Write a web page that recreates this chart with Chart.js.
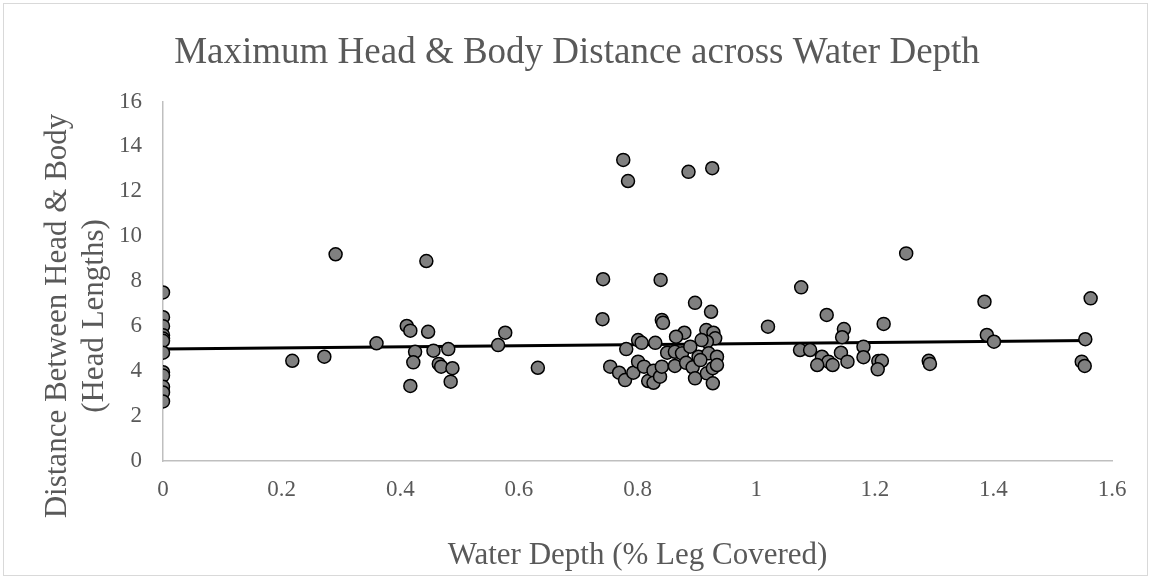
<!DOCTYPE html>
<html>
<head>
<meta charset="utf-8">
<script src="https://cdn.jsdelivr.net/npm/chart.js@4"></script>
<style>
  html, body { margin: 0; padding: 0; background: #ffffff; }
  #wrap { position: relative; width: 1151px; height: 579px; }
  canvas { display: block; }
</style>
</head>
<body>
<div id="wrap"><canvas id="c" width="1151" height="579"></canvas></div>
<script>
// ---- data ----
const chartTitle = "Maximum Head & Body Distance across Water Depth";
const xAxisTitle = "Water Depth (% Leg Covered)";
const yAxisTitle = ["Distance Between Head & Body", "(Head Lengths)"];

const waterDepth = [
  0, 0, 0, 0, 0, 0, 0, 0, 0, 0, 0, 0,
  0.218, 0.272, 0.291, 0.360, 0.411, 0.417, 0.447, 0.425, 0.422, 0.417,
  0.444, 0.456, 0.481, 0.465, 0.469, 0.488, 0.485, 0.577, 0.565, 0.632,
  0.742, 0.741, 0.781, 0.754, 0.769, 0.779, 0.793, 0.801, 0.801, 0.807,
  0.811, 0.818, 0.827, 0.830,
  0.776, 0.784, 0.886, 0.926, 0.839, 0.841, 0.843, 0.897, 0.924, 0.916,
  0.928, 0.931, 0.917, 0.908, 0.879, 0.865, 0.850, 0.863, 0.875, 0.889,
  0.903, 0.920, 0.934, 0.827, 0.838, 0.841, 0.863, 0.882, 0.893, 0.897,
  0.917, 0.927, 0.927, 0.906, 0.934,
  1.253, 1.076, 1.385, 1.119, 1.020, 1.215, 1.148, 1.145, 1.389, 1.401,
  1.074, 1.091, 1.111, 1.122, 1.103, 1.129, 1.143, 1.154, 1.181, 1.181,
  1.206, 1.212, 1.205, 1.291, 1.293,
  1.564, 1.555, 1.549, 1.554
];
const headBodyDistance = [
  7.50, 6.40, 6.00, 5.60, 5.45, 5.35, 4.82, 3.95, 3.80, 3.30, 3.05, 2.65,
  4.46, 4.64, 9.20, 5.24, 6.01, 5.80, 5.75, 4.86, 4.39, 3.34,
  8.90, 4.91, 4.98, 4.32, 4.20, 4.13, 3.53, 5.71, 5.16, 4.15,
  8.09, 6.31, 4.98, 4.20, 3.93, 3.60, 3.93, 4.42, 5.38, 5.26,
  4.20, 3.56, 4.02, 5.26,
  13.40, 12.46, 12.87, 13.03, 8.06, 6.28, 6.15, 7.04, 6.64, 5.83,
  5.71, 5.46, 5.31, 5.38, 5.71, 5.53, 4.82, 4.86, 4.79, 5.09,
  4.64, 4.79, 4.64, 3.48, 3.75, 4.20, 4.23, 4.37, 4.17, 3.68,
  3.90, 4.13, 3.46, 4.49, 4.27,
  9.24, 7.73, 7.09, 6.50, 5.98, 6.10, 5.87, 5.51, 5.61, 5.31,
  4.94, 4.94, 4.64, 4.42, 4.27, 4.27, 4.82, 4.42, 5.09, 4.62,
  4.45, 4.46, 4.08, 4.46, 4.32,
  7.24, 5.42, 4.42, 4.23
];
// linear trendline end points
const trendX = [0, 1.564];
const trendY = [4.98, 5.36];

const xTicks = { min: 0, max: 1.6, step: 0.2 };
const yTicks = { min: 0, max: 16, step: 2 };

// ---- build ----
const points = waterDepth.map((x, i) => ({ x: x, y: headBodyDistance[i] }));
const trend = trendX.map((x, i) => ({ x: x, y: trendY[i] }));

const SERIF = "'Liberation Serif', 'Times New Roman', Times, serif";
const TEXT = '#595959';
const fmt = v => String(Math.round(v * 10) / 10);

const frame = {
  id: 'frame',
  beforeDraw(chart) {
    const ctx = chart.ctx;
    ctx.save();
    ctx.fillStyle = '#ffffff';
    ctx.fillRect(0, 0, chart.width, chart.height);
    ctx.strokeStyle = '#d9d9d9';
    ctx.lineWidth = 1;
    ctx.strokeRect(3.5, 3.5, chart.width - 7, chart.height - 7);
    ctx.restore();
  },
  afterDraw(chart) {
    const ctx = chart.ctx;
    ctx.save();
    ctx.fillStyle = TEXT;
    ctx.textAlign = 'center';
    ctx.textBaseline = 'middle';
    // chart title
    ctx.font = "37px " + SERIF;
    ctx.fillText(chartTitle, 577, 53);
    // y axis title (two lines, rotated)
    ctx.font = "31px " + SERIF;
    ctx.translate(0, 316);
    ctx.rotate(-Math.PI / 2);
    ctx.fillText(yAxisTitle[0], 0, 58);
    ctx.fillText(yAxisTitle[1], 0, 95);
    ctx.restore();
  }
};

new Chart(document.getElementById('c'), {
  type: 'scatter',
  data: {
    datasets: [
      {
        label: 'Distance',
        data: points,
        backgroundColor: '#808080',
        borderColor: '#000000',
        borderWidth: 1.5,
        pointRadius: 6.5,
        pointHoverRadius: 6.5,
        order: 1
      },
      {
        label: 'Linear trend',
        type: 'line',
        data: trend,
        borderColor: '#000000',
        borderWidth: 3,
        pointRadius: 0,
        fill: false,
        order: 2
      }
    ]
  },
  options: {
    responsive: false,
    animation: false,
    events: [],
    layout: { padding: { left: 0, right: 39, top: 101.5, bottom: 0 } },
    plugins: {
      legend: { display: false },
      tooltip: { enabled: false },
      title: { display: false }
    },
    scales: {
      x: {
        type: 'linear',
        min: xTicks.min, max: xTicks.max,
        grid: { display: false, drawTicks: false },
        border: { display: true, color: '#bfbfbf', width: 1.5 },
        ticks: {
          stepSize: xTicks.step,
          color: TEXT,
          padding: 15,
          font: { family: SERIF, size: 23 },
          callback: v => fmt(v)
        },
        title: {
          display: true,
          text: xAxisTitle,
          color: TEXT,
          font: { family: SERIF, size: 31 },
          padding: { top: 0, bottom: 5 }
        },
        afterFit(scale) { scale.height = 118; }
      },
      y: {
        type: 'linear',
        min: yTicks.min, max: yTicks.max,
        grid: { display: false, drawTicks: false },
        border: { display: true, color: '#bfbfbf', width: 1.5 },
        ticks: {
          stepSize: yTicks.step,
          color: TEXT,
          padding: 21,
          font: { family: SERIF, size: 23 },
          callback: v => fmt(v)
        },
        afterFit(scale) { scale.width = 163; }
      }
    }
  },
  plugins: [frame]
});
</script>
</body>
</html>
